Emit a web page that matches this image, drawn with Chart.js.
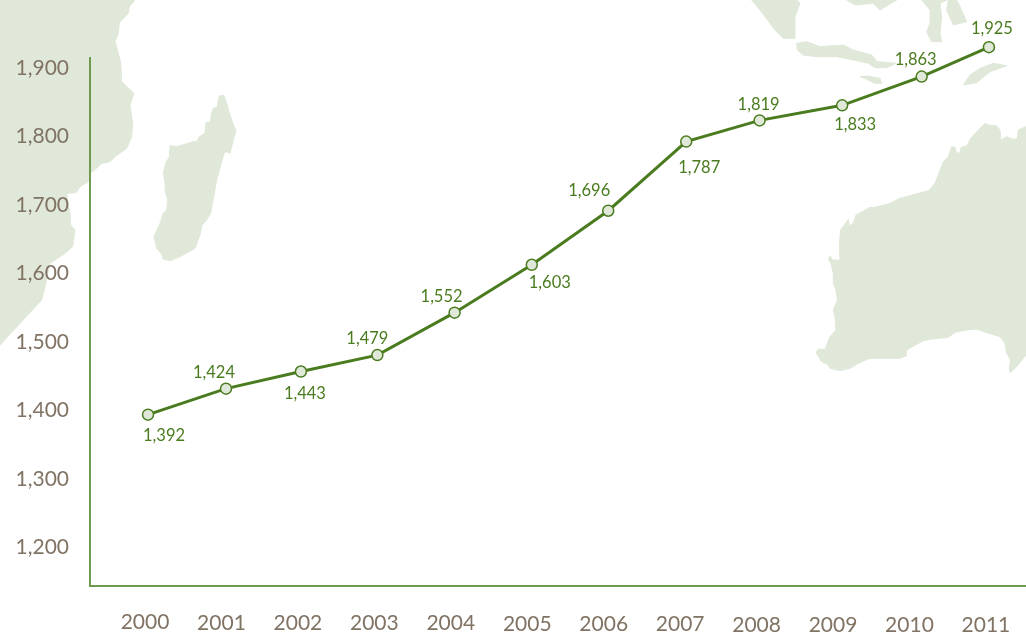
<!DOCTYPE html>
<html><head><meta charset="utf-8">
<style>html,body{margin:0;padding:0;background:#fff}#w{position:relative;width:1026px;height:641px}</style>
<script src="https://cdn.jsdelivr.net/npm/chart.js@4"></script>
</head><body><div id="w"><canvas id="c" width="1026" height="641"></canvas></div>
<script>
// Tick labels
const years = [2000,2001,2002,2003,2004,2005,2006,2007,2008,2009,2010,2011];
const yTicks = [1200,1300,1400,1500,1600,1700,1800,1900];
// Printed values next to each point
const printedValues = [1392,1424,1443,1479,1552,1603,1696,1787,1819,1833,1863,1925];
// Where the points actually sit against the axes in the picture (the original's
// points do not line up exactly with its printed values or its year labels)
const plottedValues = [1392,1430,1455,1479,1541,1611,1690,1791,1822,1844,1886,1929];
const plottedYears = [2000,2001.02,2002,2003,2004.01,2005.02,2006.02,2007.04,2008,2009.08,2010.12,2011];

const MAP = '#e0e8d9', LINE = '#4a7c1f', AXIS = '#6f9a50', TICK = '#807364';

// Decorative map backdrop (outline points in page pixels)
const tr3 = (pts,ox,oy)=>pts.map(p=>[ox+p[0]/3,oy+p[1]/3]);
const mapShapes = [
 tr3([[405,0],[388,20],[385,40],[358,68],[355,100],[345,125],[352,150],[362,185],[365,245],[402,280],[390,315],[398,370],[395,410],[380,445],[345,470],[330,485],[305,490],[290,505],[270,520],[265,545],[240,560],[228,578],[200,580],[210,640],[212,675],[225,690],[218,740],[195,760],[150,790],[135,860],[125,900],[60,970],[0,1035],[0,0]],0,0),
 tr3([[660,287],[672,287],[680,310],[690,345],[700,375],[708,390],[700,420],[690,460],[678,455],[672,460],[650,540],[632,640],[620,660],[606,675],[600,705],[585,745],[540,770],[510,782],[490,778],[485,762],[470,745],[462,710],[480,670],[490,640],[500,630],[503,600],[496,575],[495,550],[490,520],[497,490],[508,470],[510,437],[530,440],[580,425],[590,425],[598,410],[615,400],[618,368],[632,365],[633,345],[640,325],[652,320],[655,295]],0,0),
 tr3([[555,40],[565,45],[590,48],[600,60],[603,90],[620,80],[640,88],[652,85],[655,60],[678,50],[678,735],[650,770],[630,788],[628,770],[632,750],[620,730],[615,700],[600,680],[560,668],[530,657],[500,660],[465,667],[445,682],[390,688],[370,692],[320,720],[318,738],[300,745],[210,745],[175,760],[150,775],[120,782],[90,775],[85,765],[65,755],[48,728],[55,718],[75,718],[90,680],[108,660],[105,620],[100,600],[112,570],[108,540],[100,520],[100,490],[93,460],[85,448],[90,438],[98,450],[120,450],[118,400],[122,360],[145,328],[148,348],[160,340],[168,315],[210,292],[225,292],[265,282],[300,265],[385,242],[405,220],[430,155],[445,140],[455,110],[465,112],[470,130],[480,128],[483,112],[500,108],[512,85],[535,60],[550,45]],800,110),
 tr3([[35,0],[60,30],[105,90],[130,115],[165,115],[165,50],[180,10],[170,0]],740,0),
 tr3([[170,130],[200,125],[240,140],[310,135],[340,150],[395,165],[412,185],[468,190],[440,203],[405,203],[385,190],[340,180],[290,170],[230,170],[190,165],[172,150]],740,0),
 tr3([[360,230],[385,228],[420,235],[425,250],[405,250],[380,238]],740,0),
 tr3([[320,0],[345,15],[400,10],[420,30],[470,0]],740,0),
 tr3([[545,0],[570,30],[570,70],[560,95],[575,125],[605,125],[600,100],[605,50],[600,10],[620,0]],740,0),
 tr3([[625,0],[620,30],[640,75],[680,65],[660,20],[650,0]],740,0),
 tr3([[800,197],[760,190],[720,205],[690,225],[670,255],[710,248],[750,215]],740,0)
];

const backdrop = {
  id:'backdrop',
  beforeDraw(chart){
    const c = chart.ctx; c.save();
    c.fillStyle = MAP; c.strokeStyle = MAP; c.lineWidth = 1; c.lineJoin = 'round';
    mapShapes.forEach(s=>{
      c.beginPath(); s.forEach((p,i)=> i?c.lineTo(p[0],p[1]):c.moveTo(p[0],p[1]));
      c.closePath(); c.fill(); c.stroke();
    });
    c.restore();
  }
};
const tiltLabels = {
  id:'tiltLabels',
  afterUpdate(chart){
    chart.scales.x.getLabelItems().forEach((it,i)=>{ it.options.translation[1] += i*3/11; });
    chart.scales.y.getLabelItems().forEach(it=>{ it.options.translation[1] += 1.3; });
  }
};
// The y axis line stops below the top of the plot, so the last point can rise above it
const shortAxis = {
  id:'shortAxis',
  afterDraw(chart,args,opts){
    const y = chart.scales.y, c = chart.ctx, x = chart.chartArea.left;
    c.save(); c.strokeStyle = AXIS; c.lineWidth = 2; c.beginPath();
    c.moveTo(x, y.getPixelForValue(opts.top)); c.lineTo(x, chart.chartArea.bottom); c.stroke();
    c.restore();
  }
};
const pointLabels = {
  id:'pointLabels',
  afterDatasetsDraw(chart,args,opts){
    const c = chart.ctx, pts = chart.getDatasetMeta(0).data;
    c.save();
    c.font = '16.5px Lato'; c.fillStyle = LINE; c.textAlign='center'; c.textBaseline='middle';
    pts.forEach((p,i)=> c.fillText(printedValues[i].toLocaleString('en-US'), p.x+opts.dx[i], p.y+opts.dy[i]));
    c.restore();
  }
};

new Chart(document.getElementById('c'),{
  type:'line',
  data:{datasets:[{
    data: plottedYears.map((x,i)=>({x,y:plottedValues[i]})),
    borderColor:LINE, borderWidth:3, tension:0, clip:false,
    pointRadius:5.5, pointBorderWidth:1.5, pointBackgroundColor:MAP, pointBorderColor:LINE
  }]},
  plugins:[backdrop,tiltLabels,shortAxis,pointLabels],
  options:{
    responsive:false, animation:false,
    layout:{padding:0,autoPadding:false},
    plugins:{legend:{display:false},tooltip:{enabled:false},
      shortAxis:{top:1914.6},
      pointLabels:{dx:[16,-12,4,-10,-13,18,-19,13,-1,13,-6,3],dy:[21,-16,22,-16,-16,18,-20,26,-16,19,-17,-18]}},
    scales:{
      x:{type:'linear',min:1999.241,max:2011.485,
        grid:{display:false,drawTicks:false},
        border:{color:AXIS,width:2},
        afterBuildTicks(s){s.ticks=years.map(v=>({value:v}));},
        afterFit(s){s.height=55;s.paddingRight=0;s.paddingLeft=0;},
        ticks:{color:TICK,font:{family:'Lato',size:21},padding:24,labelOffset:-3,maxRotation:0,autoSkip:false,callback:v=>String(v)}
      },
      y:{type:'linear',min:1141.6,max:1997.9,
        grid:{display:false,drawTicks:false},
        border:{display:false},
        afterBuildTicks(s){s.ticks=yTicks.map(v=>({value:v}));},
        afterFit(s){s.width=90;s.paddingTop=0;s.paddingBottom=0;},
        ticks:{color:TICK,font:{family:'Lato',size:21},padding:21,autoSkip:false,callback:v=>v.toLocaleString('en-US')}
      }
    }
  }
});
</script></body></html>
